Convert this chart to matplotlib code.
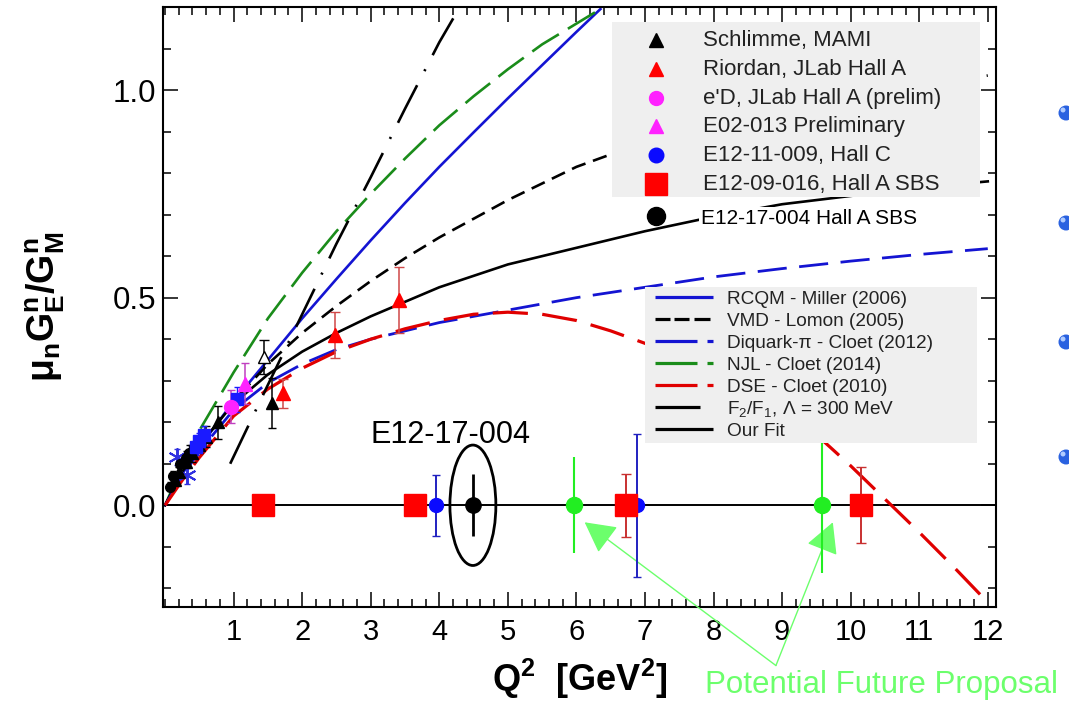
import matplotlib
matplotlib.use('Agg')
import matplotlib.pyplot as plt
from matplotlib.patches import Ellipse, Rectangle
from matplotlib.lines import Line2D
from matplotlib.ticker import MultipleLocator, FormatStrFormatter

plt.rcParams['font.family'] = ['Liberation Sans', 'DejaVu Sans']
plt.rcParams['mathtext.fontset'] = 'custom'
plt.rcParams['mathtext.rm'] = 'Liberation Sans'
plt.rcParams['mathtext.it'] = 'Liberation Sans:italic'
plt.rcParams['mathtext.bf'] = 'Liberation Sans:bold'

W, H = 1069, 704

# ---------------- model curves ----------------
rcqm_q2 = [0, 0.25, 0.5, 1, 1.5, 2, 2.5, 3, 3.5, 4, 4.5, 5, 5.5, 6, 6.35]
rcqm_val = [0, 0.075, 0.14, 0.25, 0.35, 0.45, 0.545, 0.638, 0.728, 0.815, 0.898, 0.98, 1.06, 1.14, 1.195]

njl_q2 = [0, 0.25, 0.5, 1, 1.5, 2, 2.5, 3, 3.5, 4, 4.5, 5, 5.5, 6, 6.4]
njl_val = [0, 0.095, 0.18, 0.32, 0.45, 0.56, 0.66, 0.75, 0.835, 0.915, 0.985, 1.05, 1.11, 1.16, 1.2]

vmd_q2 = [0, 0.25, 0.5, 1, 1.5, 2, 2.5, 3, 3.5, 4, 5, 6, 7, 8, 9, 10, 11, 12]
vmd_val = [0, 0.075, 0.14, 0.25, 0.34, 0.415, 0.48, 0.54, 0.595, 0.645, 0.735, 0.815, 0.875, 0.92, 0.955, 0.985, 1.01, 1.035]

fit_q2 = [0, 0.25, 0.5, 1, 1.5, 2, 2.5, 3, 4, 5, 6, 7, 8, 9, 10, 11, 12]
fit_val = [0, 0.08, 0.145, 0.245, 0.315, 0.37, 0.415, 0.455, 0.525, 0.58, 0.62, 0.66, 0.695, 0.725, 0.745, 0.765, 0.78]

diq_q2 = [0, 0.25, 0.5, 1, 1.5, 2, 2.5, 3, 3.5, 4, 5, 6, 7, 8, 9, 10, 11, 12]
diq_val = [0, 0.07, 0.13, 0.23, 0.295, 0.34, 0.375, 0.40, 0.42, 0.44, 0.47, 0.50, 0.525, 0.55, 0.57, 0.588, 0.604, 0.618]

dse_q2 = [0, 0.25, 0.5, 1, 1.5, 2, 2.5, 3, 3.5, 4, 4.5, 5, 5.5, 6, 6.5, 7, 7.5, 8, 8.5, 9, 9.5, 10, 10.5, 11, 11.5, 12]
dse_val = [0, 0.06, 0.115, 0.215, 0.28, 0.33, 0.37, 0.40, 0.425, 0.445, 0.46, 0.465, 0.46, 0.445, 0.42, 0.39, 0.35, 0.31, 0.27, 0.225, 0.17, 0.095, 0.015, -0.065, -0.148, -0.234]

f2f1_q2 = [0.95, 1.5, 2, 2.5, 3, 3.5, 4, 4.3]
f2f1_val = [0.10, 0.29, 0.46, 0.63, 0.79, 0.955, 1.115, 1.2]

# ---------------- existing data ----------------
schl_q2 = [0.14, 0.2, 0.3, 0.4, 0.5, 0.6, 0.77, 1.56]
schl_val = [0.06, 0.08, 0.105, 0.125, 0.145, 0.165, 0.2, 0.246]
schl_err = [0.01, 0.012, 0.015, 0.02, 0.02, 0.025, 0.04, 0.06]

open_q2 = [1.44]
open_val = [0.357]
open_err = [0.04]

blkc_q2 = [0.07, 0.12, 0.22, 0.3, 0.35]
blkc_val = [0.045, 0.07, 0.1, 0.115, 0.125]
blkc_err = [0.01, 0.012, 0.015, 0.015, 0.02]

bsq_q2 = [0.45, 0.5, 0.57, 1.05]
bsq_val = [0.14, 0.155, 0.17, 0.255]
bsq_err = [0.02, 0.02, 0.02, 0.03]

bstar_q2 = [0.17, 0.32]
bstar_val = [0.116, 0.072]
bstar_err = [0.02, 0.02]

riordan_q2 = [1.72, 2.48, 3.41]
riordan_val = [0.27, 0.41, 0.494]
riordan_err = [0.035, 0.056, 0.08]

ed_q2 = [0.96]
ed_val = [0.237]
ed_err = [0.04]

e02_q2 = [1.16]
e02_val = [0.293]
e02_err = [0.05]

# ---------------- projected data ----------------
sbs_q2 = [1.43, 3.64, 6.73, 10.15]
sbs_val = [0, 0, 0, 0]
sbs_err = [0, 0, 0.076, 0.092]

hc_q2 = [3.95, 6.88]
hc_val = [0, 0]
hc_err = [0.074, 0.172]

e1217_q2 = [4.49]
e1217_val = [0]
e1217_err = [0.075]

fut_q2 = [5.96, 9.58]
fut_val = [0, 0]
fut_err = [0.116, 0.164]

# ---------------- labels ----------------
legend1_labels = ['Schlimme, MAMI', 'Riordan, JLab Hall A', "e'D, JLab Hall A (prelim)",
                  'E02-013 Preliminary', 'E12-11-009, Hall C', 'E12-09-016, Hall A SBS']
legend1_extra = 'E12-17-004 Hall A SBS'
legend2_labels = ['RCQM - Miller (2006)', 'VMD - Lomon (2005)', 'Diquark-\u03c0 - Cloet (2012)',
                  'NJL - Cloet (2014)', 'DSE - Cloet (2010)', 'F$_{2}$/F$_{1}$, \u039b = 300 MeV', 'Our Fit']

BLUE = '#1414d2'
RED = '#e00000'
GREEN = '#1a8c1a'
LGREEN = '#22ee22'
ARROWG = '#6cff6c'

fig = plt.figure(figsize=(W / 100, H / 100), dpi=100)
ax = fig.add_axes([163 / W, 97 / H, 833 / W, 600 / H])
ax.set_xlim(-0.03, 12.12)
ax.set_ylim(-0.245, 1.2)

ax.axhline(0, color='black', lw=1.4, zorder=1.5)

# curves
ax.plot(rcqm_q2, rcqm_val, color=BLUE, lw=1.9, zorder=2)
ax.plot(njl_q2, njl_val, color=GREEN, lw=1.9, dashes=(12, 4), zorder=2)
ax.plot(vmd_q2, vmd_val, color='black', lw=1.9, dashes=(5.5, 3), zorder=2)
ax.plot(fit_q2, fit_val, color='black', lw=1.9, zorder=2)
ax.plot(diq_q2, diq_val, color=BLUE, lw=2.0, dashes=(10.5, 4.5), zorder=2)
ax.plot(dse_q2, dse_val, color=RED, lw=2.3, dashes=(11, 4.5), zorder=2)
ax.plot(f2f1_q2, f2f1_val, color='black', lw=1.9, dashes=(16, 6, 0.8, 6), zorder=2)

# existing data
ax.errorbar(blkc_q2, blkc_val, yerr=blkc_err, fmt='o', color='black', ms=7, capsize=2.5, lw=1, zorder=4)
ax.errorbar(schl_q2, schl_val, yerr=schl_err, fmt='^', color='black', ms=8, capsize=3, lw=1.1, zorder=4)
ax.errorbar(open_q2, open_val, yerr=open_err, fmt='^', color='black', mfc='white', ms=9, capsize=3.5, lw=1.1, zorder=4)
ax.errorbar(bsq_q2, bsq_val, yerr=bsq_err, fmt='s', color='#1a1aff', ms=8, capsize=2.5, lw=1, zorder=4)
ax.errorbar(bstar_q2, bstar_val, yerr=bstar_err, fmt='none', ecolor='#3030e0', capsize=2.5, lw=1, zorder=4)
ax.plot(bstar_q2, bstar_val, ls='none', marker=(6, 2, 0), ms=13, mec='#3030e0', mew=1.4, zorder=4)
ax.errorbar(riordan_q2, riordan_val, yerr=riordan_err, fmt='^', color='#ff0000', ecolor='#d04848', ms=10, capsize=3.5, lw=1.1, zorder=4)
ax.errorbar(ed_q2, ed_val, yerr=ed_err, fmt='o', color='#ff22ff', ecolor='#c040c0', ms=10, capsize=3, lw=1.1, zorder=4)
ax.errorbar(e02_q2, e02_val, yerr=e02_err, fmt='^', color='#ff22ff', ecolor='#c040c0', ms=10, capsize=3, lw=1.1, zorder=4)

# projected data
ax.errorbar(hc_q2, hc_val, yerr=hc_err, fmt='o', color='#0a0aff', ecolor='#2020c0', ms=10, capsize=3, lw=1.4, zorder=5)
ax.errorbar(sbs_q2, sbs_val, yerr=sbs_err, fmt='s', color='#ff0000', ecolor='#c83030', ms=16, capsize=3.5, lw=1.4, zorder=6)
ax.errorbar(e1217_q2, e1217_val, yerr=e1217_err, fmt='o', color='black', ms=11, capsize=0, lw=2, zorder=6)
ax.errorbar(fut_q2, fut_val, yerr=fut_err, fmt='o', color=LGREEN, ms=11.5, capsize=0, lw=1.5, zorder=6)

ax.add_patch(Ellipse((e1217_q2[0], 0), 0.67, 0.29, fill=False, ec='black', lw=2, zorder=6))
ax.text(3.0, 0.15, 'E12-17-004', fontsize=22, color='black', va='baseline', ha='left', zorder=7)

# arrows to future proposal points
for xq in fut_q2:
    ax.annotate('', xy=(xq + 0.16, -0.041), xytext=(8.91, -0.386), xycoords='data', textcoords='data',
                annotation_clip=False,
                arrowprops=dict(arrowstyle='-|>,head_length=0.6,head_width=0.32', color=ARROWG,
                                lw=1.0, shrinkA=0, shrinkB=0, mutation_scale=32))
fig.text(705 / W, 1 - 693 / H, 'Potential Future Proposal', fontsize=22.5, color=ARROWG, va='baseline', ha='left')

# axes styling
for s in ax.spines.values():
    s.set_linewidth(1.5)
ax.xaxis.set_major_locator(MultipleLocator(1))
ax.xaxis.set_minor_locator(MultipleLocator(0.2))
ax.yaxis.set_major_locator(MultipleLocator(0.5))
ax.yaxis.set_minor_locator(MultipleLocator(0.1))
ax.yaxis.set_major_formatter(FormatStrFormatter('%.1f'))
ax.tick_params(which='both', direction='in', top=True, right=True, width=1.1)
ax.tick_params(which='major', length=11)
ax.tick_params(which='minor', length=5.5)
ax.tick_params(axis='x', pad=8, labelsize=21)
ax.tick_params(axis='y', pad=5, labelsize=22.5)
ax.set_xticks(range(1, 13))
ax.set_xlabel(r'$\mathbf{Q^2\ \ [GeV^2]}$', fontsize=26, labelpad=8)
ax.set_ylabel(r'$\mathbf{\mu_n G^n_E/G^n_M}$', fontsize=27, labelpad=33)


def fx(px):
    return px / W


def fy(py):
    return 1 - py / H


# ---- legend 1 (data) ----
fig.add_artist(Rectangle((fx(612), fy(197)), (980 - 612) / W, (197 - 22) / H, transform=fig.transFigure,
                         facecolor='#efefef', edgecolor='none', zorder=8))
leg1_styles = [dict(marker='^', color='black', ms=10), dict(marker='^', color='#ff0000', ms=10),
               dict(marker='o', color='#ff22ff', ms=10), dict(marker='^', color='#ff22ff', ms=10),
               dict(marker='o', color='#0a0aff', ms=10.5), dict(marker='s', color='#ff0000', ms=16)]
for i, (lab, st) in enumerate(zip(legend1_labels, leg1_styles)):
    base = 46 + 28.8 * i
    fig.add_artist(Line2D([fx(656)], [fy(base - 6)], ls='none', transform=fig.transFigure, zorder=9, **st))
    fig.text(fx(703), fy(base), lab, fontsize=16, va='baseline', ha='left', color='#222222', zorder=9)
fig.add_artist(Line2D([fx(656)], [fy(216)], ls='none', marker='o', color='black', ms=13,
                      transform=fig.transFigure, zorder=9))
fig.text(fx(701), fy(224), legend1_extra, fontsize=15, va='baseline', ha='left', color='black', zorder=9,
         bbox=dict(facecolor='white', edgecolor='none', pad=1.5))

# ---- legend 2 (models) ----
fig.add_artist(Rectangle((fx(645), fy(443)), (977 - 645) / W, (443 - 287) / H, transform=fig.transFigure,
                         facecolor='#efefef', edgecolor='none', zorder=8))
leg2_segs = [
    (BLUE, [(655, 713)]),
    ('black', [(655, 670), (674, 689), (694, 710)]),
    (BLUE, [(655, 697), (707, 713)]),
    (GREEN, [(655, 697), (707, 713)]),
    (RED, [(655, 697), (707, 713)]),
    ('black', [(655, 700)]),
    ('black', [(655, 713)]),
]
for i, (lab, (col, segs)) in enumerate(zip(legend2_labels, leg2_segs)):
    base = 304 + 22 * i
    for a, b in segs:
        fig.add_artist(Line2D([fx(a), fx(b)], [fy(base - 7), fy(base - 7)], color=col, lw=2.3,
                              solid_capstyle='butt', transform=fig.transFigure, zorder=9))
    fig.text(fx(727), fy(base), lab, fontsize=13.7, va='baseline', ha='left', color='#222222', zorder=9)

# ---- bullets at right edge ----
for yb in [113, 223, 342, 457]:
    fig.add_artist(Ellipse((fx(1066), fy(yb)), 15 / W, 15 / H, transform=fig.transFigure,
                           facecolor='#2a62e0', edgecolor='none', zorder=9))
    fig.add_artist(Ellipse((fx(1063), fy(yb - 3)), 5 / W, 5 / H, transform=fig.transFigure,
                           facecolor='#b0ccff', edgecolor='none', zorder=9))

fig.savefig('out.png', dpi=100)
